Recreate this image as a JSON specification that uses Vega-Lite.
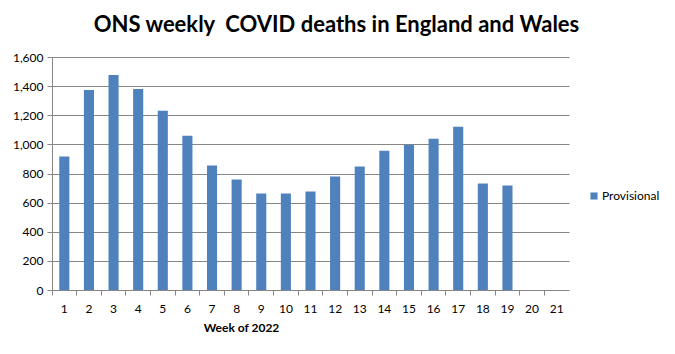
{
  "$schema": "https://vega.github.io/schema/vega-lite/v6.json",
  "width": 517,
  "height": 233,
  "autosize": {"type": "none"},
  "padding": {"left": 52, "top": 57, "right": 106, "bottom": 64},
  "background": "white",
  "title": {
    "text": "ONS weekly\u00a0 COVID deaths in England and Wales",
    "font": "Lato",
    "fontSize": 22,
    "fontWeight": "bold",
    "color": "#000000",
    "anchor": "middle",
    "frame": "group",
    "dx": 26,
    "offset": 14
  },
  "data": {
    "values": [
      {"week": 1, "deaths": 916, "series": "Provisional"},
      {"week": 2, "deaths": 1374, "series": "Provisional"},
      {"week": 3, "deaths": 1477, "series": "Provisional"},
      {"week": 4, "deaths": 1381, "series": "Provisional"},
      {"week": 5, "deaths": 1231, "series": "Provisional"},
      {"week": 6, "deaths": 1060, "series": "Provisional"},
      {"week": 7, "deaths": 855, "series": "Provisional"},
      {"week": 8, "deaths": 759, "series": "Provisional"},
      {"week": 9, "deaths": 663, "series": "Provisional"},
      {"week": 10, "deaths": 663, "series": "Provisional"},
      {"week": 11, "deaths": 677, "series": "Provisional"},
      {"week": 12, "deaths": 779, "series": "Provisional"},
      {"week": 13, "deaths": 848, "series": "Provisional"},
      {"week": 14, "deaths": 957, "series": "Provisional"},
      {"week": 15, "deaths": 998, "series": "Provisional"},
      {"week": 16, "deaths": 1039, "series": "Provisional"},
      {"week": 17, "deaths": 1121, "series": "Provisional"},
      {"week": 18, "deaths": 732, "series": "Provisional"},
      {"week": 19, "deaths": 718, "series": "Provisional"}
    ]
  },
  "mark": {"type": "bar", "width": {"band": 0.41}},
  "encoding": {
    "x": {
      "field": "week",
      "type": "ordinal",
      "scale": {"domain": [1,2,3,4,5,6,7,8,9,10,11,12,13,14,15,16,17,18,19,20,21], "paddingInner": 0, "paddingOuter": 0},
      "axis": {
        "title": "Week of 2022",
        "titleFont": "Lato",
        "titleFontSize": 12,
        "titleFontWeight": "bold",
        "titleColor": "#000000",
        "titleX": 189,
        "titleAlign": "center",
        "titlePadding": 8,
        "labelAngle": 0,
        "labelFont": "Lato",
        "labelFontSize": 12,
        "labelColor": "#000000",
        "labelPadding": 8,
        "bandPosition": 0,
        "labelBandPosition": 0.5,
        "tickColor": "#868686",
        "tickSize": 5,
        "domainColor": "#868686",
        "grid": false
      }
    },
    "y": {
      "field": "deaths",
      "type": "quantitative",
      "scale": {"domain": [0, 1600], "nice": false},
      "axis": {
        "title": null,
        "values": [0,200,400,600,800,1000,1200,1400,1600],
        "format": ",d",
        "labelFont": "Lato",
        "labelFontSize": 12,
        "labelColor": "#000000",
        "labelPadding": 4,
        "tickColor": "#868686",
        "tickSize": 5,
        "domainColor": "#868686",
        "gridColor": "#868686",
        "gridWidth": 1
      }
    },
    "color": {
      "field": "series",
      "type": "nominal",
      "scale": {"range": ["#4F81BD"]},
      "legend": {
        "title": null,
        "orient": "none",
        "legendX": 536,
        "legendY": 133,
        "symbolType": "square",
        "symbolSize": 50,
        "symbolStrokeWidth": 0,
        "labelFont": "Lato",
        "labelFontSize": 12,
        "labelColor": "#000000",
        "labelOffset": 2
      }
    }
  },
  "config": {"view": {"stroke": null}}
}
